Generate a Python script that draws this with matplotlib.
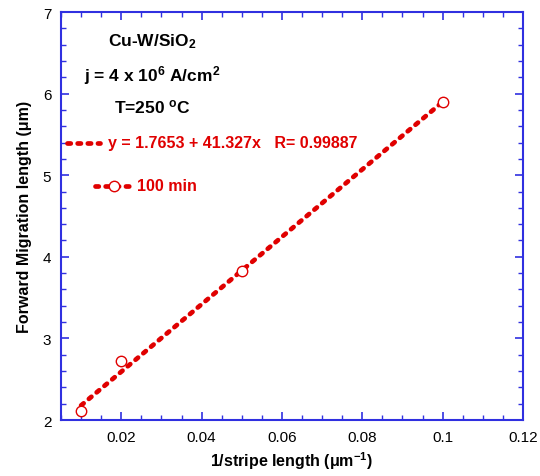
import numpy as np
import matplotlib
matplotlib.use("Agg")
import matplotlib.pyplot as plt
from matplotlib.ticker import MultipleLocator

plt.rcParams['font.family'] = ['Liberation Sans', 'DejaVu Sans']
plt.rcParams['mathtext.fontset'] = 'custom'
plt.rcParams['mathtext.rm'] = 'Liberation Sans:bold'
plt.rcParams['mathtext.it'] = 'Liberation Sans:bold'
plt.rcParams['mathtext.bf'] = 'Liberation Sans:bold'

# data
inv_length = [0.01, 0.02, 0.05, 0.1]
migration = [2.11, 2.72, 3.82, 5.90]
fit_a = 1.7653
fit_b = 41.327
fit_r = 0.99887

red = "#e00000"
blue = "#3030e0"
dash = dict(color=red, lw=3.4, ls=(0, (0.7, 1.45)), dash_capstyle='round')
mk = dict(mfc='white', mec=red, ms=7.5, mew=1.0)

fig = plt.figure(figsize=(5.4, 4.77), dpi=100)
ax = fig.add_axes([0.113, 0.1174, 0.8555, 0.8553])

xf = np.array([inv_length[0], inv_length[-1]])
ax.plot(xf, fit_a + fit_b * xf, zorder=2, **dash)
ax.plot(inv_length, migration, 'o', ls='none', zorder=3, **mk)

ax.set_xlim(0.005, 0.12)
ax.set_ylim(2, 7)
ax.xaxis.set_major_locator(MultipleLocator(0.02))
ax.xaxis.set_minor_locator(MultipleLocator(0.005))
ax.yaxis.set_major_locator(MultipleLocator(1))
ax.yaxis.set_minor_locator(MultipleLocator(0.2))
ax.xaxis.set_major_formatter(plt.FuncFormatter(lambda v, p: ("%g" % round(v, 3))))

for s in ax.spines.values():
    s.set_color(blue)
    s.set_linewidth(1.5)
ax.tick_params(which='both', direction='in', top=True, right=True, color=blue, labelsize=11)
ax.tick_params(which='major', length=6, width=1.2, pad=7)
ax.tick_params(which='minor', length=3.5, width=1.0)

ax.set_xlabel("1/stripe length (\u03bcm$^{-1}$)", fontsize=11.5, fontweight='bold')
ax.set_ylabel("Forward Migration length (\u03bcm)", fontsize=11.5, fontweight='bold', labelpad=8)

# annotations
ax.text(0.197, 0.929, "Cu-W/SiO$_2$", transform=ax.transAxes, ha='center', va='center',
        fontsize=12.5, fontweight='bold')
ax.text(0.197, 0.846, "j = 4 x 10$^6$ A/cm$^2$", transform=ax.transAxes, ha='center', va='center',
        fontsize=12.5, fontweight='bold')
ax.text(0.197, 0.77, "T=250 $^o$C", transform=ax.transAxes, ha='center', va='center',
        fontsize=12.5, fontweight='bold')

# legend-like samples
ax.plot([0.0065, 0.0147], [5.4, 5.4], clip_on=False, **dash)
ax.text(0.0167, 5.4, "y = %.4f + %.3fx   R= %.5f" % (fit_a, fit_b, fit_r), color=red,
        fontsize=11.5, fontweight='bold', va='center')
ax.plot([0.0135, 0.0229], [4.87, 4.87], **dash)
ax.plot([0.0182], [4.87], 'o', ls='none', **mk)
ax.text(0.0239, 4.87, "100 min", color=red, fontsize=11.5, fontweight='bold', va='center')

fig.savefig("out.png", dpi=100)
